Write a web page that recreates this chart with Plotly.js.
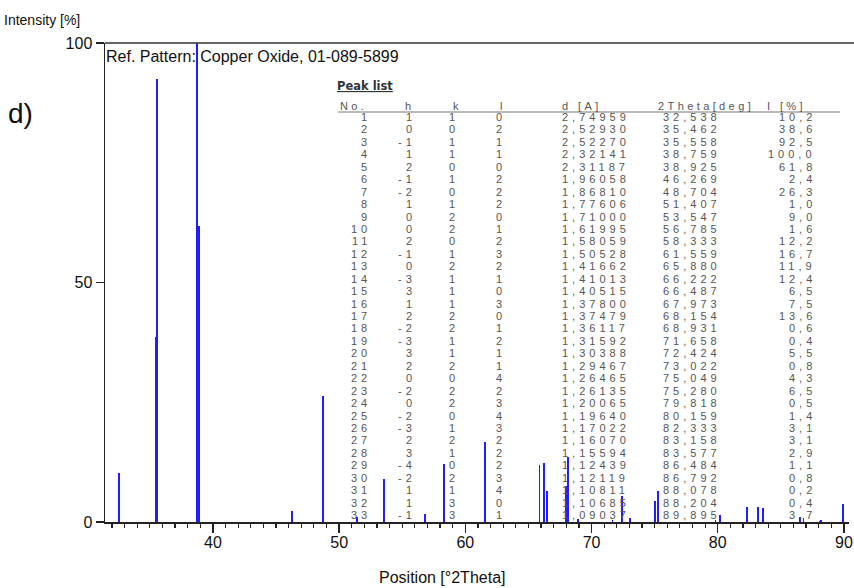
<!DOCTYPE html>
<html>
<head>
<meta charset="utf-8">
<script src="https://cdn.plot.ly/plotly-3.0.1.min.js"></script>
<style>
html,body{margin:0;padding:0;background:#fff;}
#chart{width:854px;height:588px;}
</style>
</head>
<body>
<div id="chart"></div>
<script>
// ---- data ----
const peakNo = [1,2,3,4,5,6,7,8,9,10,11,12,13,14,15,16,17,18,19,20,21,22,23,24,25,26,27,28,29,30,31,32,33];
const hIdx = [1,0,-1,1,2,-1,-2,1,0,0,2,-1,0,-3,3,1,2,-2,-3,3,2,0,-2,0,-2,-3,2,3,-4,-2,1,1,-1];
const kIdx = [1,0,1,1,0,1,0,1,2,2,0,1,2,1,1,1,2,2,1,1,2,0,2,2,0,1,2,1,0,2,1,3,3];
const lIdx = [0,2,1,1,0,2,2,2,0,1,2,3,2,1,0,3,0,1,2,1,1,4,2,3,4,3,2,2,2,3,4,0,1];
const dSpacing = [2.74959,2.52930,2.52270,2.32141,2.31187,1.96058,1.86810,1.77606,1.71000,1.61995,1.58059,1.50528,1.41662,1.41013,1.40515,1.37800,1.37479,1.36117,1.31592,1.30388,1.29467,1.26465,1.26135,1.20065,1.19640,1.17022,1.16070,1.15594,1.12439,1.12119,1.10811,1.10685,1.09037];
const twoTheta = [32.538,35.462,35.558,38.759,38.925,46.269,48.704,51.407,53.547,56.785,58.333,61.559,65.880,66.222,66.487,67.973,68.154,68.931,71.658,72.424,73.022,75.049,75.280,79.818,80.159,82.333,83.158,83.577,86.484,86.792,88.078,88.204,89.895];
const intensity = [10.2,38.6,92.5,100.0,61.8,2.4,26.3,1.0,9.0,1.6,12.2,16.7,11.9,12.4,6.5,7.5,13.6,0.6,0.4,5.5,0.8,4.3,6.5,0.5,1.4,3.1,3.1,2.9,1.1,0.8,0.2,0.4,3.7];
const headers = ["No.","h","k","l","d [A]","2Theta[deg]","I [%]"];
const xTickVals = [40,50,60,70,80,90];
const yTickVals = [0,50,100];

// ---- layout helpers ----
const L = 105, R = 849, T = 43, B = 522;
const px = v => (v - L) / (R - L);
const py = v => (B - v) / (B - T);
const narrow = "Liberation Sans Narrow, Arial Narrow, Liberation Sans, sans-serif";
const tblFamily = "Liberation Sans, Arial, sans-serif";
const comma = (v, n) => v.toFixed(n).replace('.', ',');
const LS = 4;
const sp = (s, ls) => `<span style="letter-spacing:${ls}px">${s}</span>`;

const tblFont = {family: tblFamily, size: 11, color: '#555'};
const annotations = [];
function ann(text, x, y, xanchor, font) {
  annotations.push({text, xref: 'paper', yref: 'paper', x: px(x), y: py(y),
    xanchor, yanchor: 'middle', align: xanchor === 'right' ? 'right' : (xanchor === 'center' ? 'center' : 'left'),
    showarrow: false, borderpad: 0, borderwidth: 0, font});
}

ann('Ref. Pattern: Copper Oxide, 01-089-5899', 106, 57, 'left', {family: narrow, size: 16, color: '#111'});
ann('d)', 8, 113, 'left', {family: 'Liberation Sans, Arial, sans-serif', size: 28, color: '#111'});
ann('Intensity [%]', 4, 20, 'left', {family: narrow, size: 14, color: '#111'});
ann('Position [°2Theta]', 442, 577, 'center', {family: narrow, size: 16, color: '#111'});
ann('<b><u>Peak list</u></b>', 337, 86, 'left', {family: 'DejaVu Sans, Verdana, sans-serif', size: 11.5, color: '#333'});

// headers
const headX = [340, 405, 453, 500, 562, 658, 767];
headers.forEach((hd, i) => ann(sp(hd, 3.4), headX[i], 106, 'left', tblFont));

// rows
const row0 = 117, rowStep = 12.44;
peakNo.forEach((n, i) => {
  const y = row0 + i * rowStep;
  ann(sp(String(n), LS), 367 + LS, y, 'right', tblFont);
  ann(sp(String(hIdx[i]), LS), 412 + LS, y, 'right', tblFont);
  ann(sp(String(kIdx[i]), LS), 455 + LS, y, 'right', tblFont);
  ann(sp(String(lIdx[i]), LS), 502 + LS, y, 'right', tblFont);
  ann(sp(comma(dSpacing[i], 5), LS), 562, y, 'left', tblFont);
  ann(sp(comma(twoTheta[i], 3), LS), 663, y, 'left', tblFont);
  ann(sp(comma(intensity[i], 1), LS), 812 + LS, y, 'right', tblFont);
});

const shapes = [
  {type: 'line', xref: 'paper', yref: 'paper', x0: 0, x1: px(854), y0: 1, y1: 1,
   line: {color: '#333', width: 1.5}},
  {type: 'line', xref: 'paper', yref: 'paper', x0: px(338), x1: px(840), y0: py(112), y1: py(112),
   line: {color: '#777', width: 1}}
];

const trace = {
  type: 'bar', x: twoTheta, y: intensity, width: 0.15,
  marker: {color: 'rgb(30,30,255)', line: {width: 0}},
  hoverinfo: 'x+y'
};

const layout = {
  width: 854, height: 588,
  margin: {l: L, r: 854 - R, t: T, b: 588 - B, pad: 0},
  paper_bgcolor: '#fff', plot_bgcolor: '#fff',
  showlegend: false,
  bargap: 0,
  xaxis: {
    range: [31.45, 90.4], tickvals: xTickVals, ticks: 'outside', ticklen: 9, tickwidth: 1.5,
    tickcolor: '#222', showline: true, linecolor: '#222', linewidth: 1.5, showgrid: false,
    zeroline: false, tickfont: {family: narrow, size: 16, color: '#111'}, ticklabelstandoff: -4,
    minor: {dtick: 1, tick0: 0, ticks: 'outside', ticklen: 4, tickwidth: 1.2, tickcolor: '#222', showgrid: false}
  },
  yaxis: {
    range: [0, 100], tickvals: yTickVals, ticks: 'outside', ticklen: 8, tickwidth: 1.5,
    tickcolor: '#222', showline: true, linecolor: '#222', linewidth: 1.5, showgrid: false,
    zeroline: false, tickfont: {family: narrow, size: 16, color: '#111'}
  },
  annotations, shapes
};

Plotly.newPlot('chart', [trace], layout, {displayModeBar: false, staticPlot: true});
</script>
</body>
</html>
